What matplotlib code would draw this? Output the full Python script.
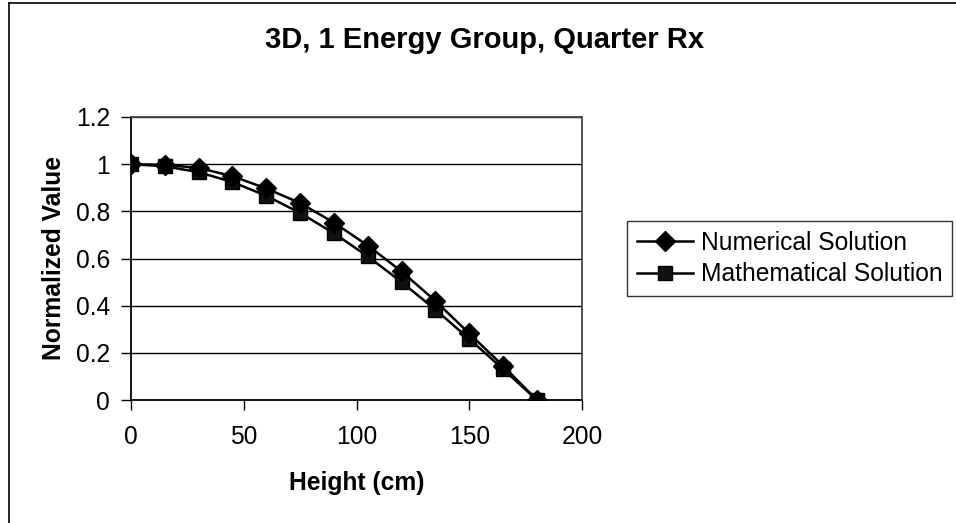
import matplotlib
matplotlib.use("Agg")
import matplotlib.pyplot as plt
from matplotlib.lines import Line2D

plt.rcParams['font.family'] = ['Liberation Sans', 'DejaVu Sans']

# Data
height_cm = [0, 15, 30, 45, 60, 75, 90, 105, 120, 135, 150, 165, 180]
numerical = [1.0, 0.997, 0.984, 0.949, 0.897, 0.835, 0.752, 0.655, 0.545, 0.420, 0.282, 0.145, 0.0]
mathematical = [1.0, 0.991, 0.966, 0.924, 0.866, 0.793, 0.707, 0.609, 0.500, 0.383, 0.259, 0.131, 0.0]
x_ticks = [0, 50, 100, 150, 200]
y_ticks = [0, 0.2, 0.4, 0.6, 0.8, 1.0, 1.2]
y_tick_labels = ['0', '0.2', '0.4', '0.6', '0.8', '1', '1.2']

W, H = 956, 523
fig = plt.figure(figsize=(W / 100, H / 100), dpi=100)
fig.patch.set_facecolor('white')

FS = 17.7

# plot area in pixel coordinates
left, right, top, bottom = 131, 582, 117, 400
ax = fig.add_axes([left / W, (H - bottom) / H, (right - left) / W, (bottom - top) / H])

ax.plot(height_cm, numerical, color='black', lw=1.8, marker='D', markersize=10.5,
        markerfacecolor='black', markeredgecolor='black', label='Numerical Solution',
        zorder=4)
ax.plot(height_cm, mathematical, color='black', lw=1.8, marker='s', markersize=9.5,
        markerfacecolor='#111111', markeredgecolor='black', label='Mathematical Solution',
        zorder=3)

ax.set_xlim(0, 200)
ax.set_ylim(0, 1.2)
ax.set_xticks(x_ticks)
ax.set_xticklabels([str(t) for t in x_ticks])
ax.set_yticks(y_ticks)
ax.set_yticklabels(y_tick_labels)
ax.tick_params(axis='both', direction='out', length=7, width=1, color='black',
               labelsize=FS)
ax.tick_params(axis='x', pad=11)
ax.tick_params(axis='y', pad=8)
ax.yaxis.grid(True, color='black', lw=1)
ax.set_axisbelow(True)
for side in ['left', 'bottom']:
    ax.spines[side].set_color('black')
    ax.spines[side].set_linewidth(1.3)
for side in ['top', 'right']:
    ax.spines[side].set_color('#444444')
    ax.spines[side].set_linewidth(1.3)

ax.set_xlabel('Height (cm)', fontsize=FS, fontweight='bold', labelpad=16)
ax.set_ylabel('Normalized Value', fontsize=FS, fontweight='bold', labelpad=7)

fig.text(485 / W, 1 - 40 / H, '3D, 1 Energy Group, Quarter Rx', ha='center', va='center',
         fontsize=21, fontweight='bold')

leg = fig.legend(loc='upper left', bbox_to_anchor=(627 / W, 1 - 221 / H),
                 bbox_transform=fig.transFigure, fontsize=FS, frameon=True,
                 fancybox=False, edgecolor='black', handlelength=2.3,
                 handletextpad=0.3, borderpad=0.4, labelspacing=0.3,
                 borderaxespad=0)
leg.get_frame().set_linewidth(1.0)

# outer chart border (left and top edges)
fig.add_artist(Line2D([9 / W, 9 / W], [0, 1 - 3 / H], transform=fig.transFigure,
                      color='black', lw=1.2))
fig.add_artist(Line2D([9 / W, 1], [1 - 3 / H, 1 - 3 / H], transform=fig.transFigure,
                      color='black', lw=1.2))

fig.savefig('out.png', dpi=100)
